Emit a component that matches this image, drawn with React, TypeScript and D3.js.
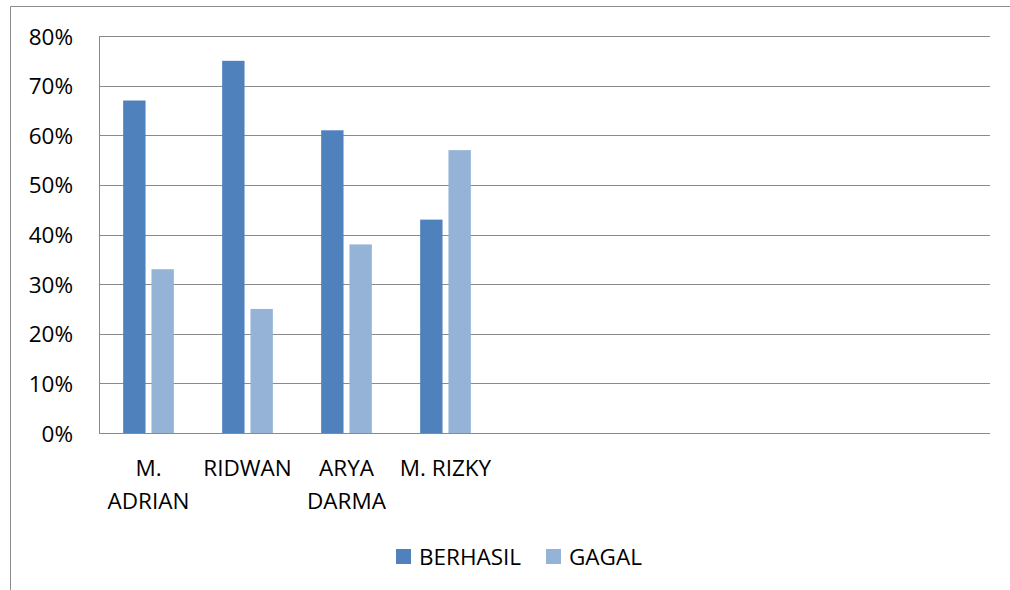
import React from "react";
import * as d3 from "d3";

const categories = ["M. ADRIAN", "RIDWAN", "ARYA DARMA", "M. RIZKY", "", "", "", "", ""];
const seriesNames = ["BERHASIL", "GAGAL"];
const berhasil = [0.67, 0.75, 0.61, 0.43, null, null, null, null, null];
const gagal = [0.33, 0.25, 0.38, 0.57, null, null, null, null, null];
const yTicks = [0, 0.1, 0.2, 0.3, 0.4, 0.5, 0.6, 0.7, 0.8];
const colors = ["#4F81BD", "#95B3D7"];

const W = 1010, H = 590;
const plot = { left: 99, right: 990, top: 36, bottom: 433 };
const FONT = "'Open Sans', sans-serif";
const FS = 22.5;

function wrap(label: string): string[] {
  if (label.length > 8 && label.includes(" ")) {
    const i = label.indexOf(" ");
    return [label.slice(0, i), label.slice(i + 1)];
  }
  return [label];
}

export default function App() {
  const x = d3.scaleBand<number>().domain(categories.map((_, i) => i)).range([plot.left, plot.right]);
  const y = d3.scaleLinear().domain([0, 0.8]).range([plot.bottom, plot.top]);
  const barW = x.bandwidth() * 0.226;
  const gap = x.bandwidth() * 0.06;
  const series = [berhasil, gagal];
  const fmt = d3.format(".0%");
  return (
    <svg width={W} height={H} style={{ position: "absolute", left: 0, top: 0, background: "#fff" }} fontFamily={FONT}>
      <rect x={0} y={0} width={W} height={H} fill="#fff" />
      <line x1={10.5} y1={6.5} x2={W} y2={6.5} stroke="#8c8c8c" />
      <line x1={10.5} y1={6.5} x2={10.5} y2={H} stroke="#8c8c8c" />
      {yTicks.map((t) => (
        <g key={t}>
          <line x1={plot.left} x2={plot.right} y1={Math.round(y(t)) + 0.5} y2={Math.round(y(t)) + 0.5} stroke="#8a8a8a" />
          <text x={73} y={y(t)} textAnchor="end" dominantBaseline="central" fontSize={FS} fill="#000">
            {fmt(t)}
          </text>
        </g>
      ))}
      <line x1={plot.left + 0.5} x2={plot.left + 0.5} y1={plot.top} y2={plot.bottom} stroke="#8a8a8a" />
      {series.map((vals, si) =>
        vals.map((v, i) =>
          v == null ? null : (
            <rect
              key={si + "-" + i}
              x={(x(i) as number) + x.bandwidth() / 2 - barW - gap / 2 + si * (barW + gap)}
              y={y(v)}
              width={barW}
              height={plot.bottom - y(v)}
              fill={colors[si]}
            />
          )
        )
      )}
      {categories.map((c, i) =>
        wrap(c).map((line, li) => (
          <text
            key={i + "-" + li}
            x={(x(i) as number) + x.bandwidth() / 2}
            y={467 + li * 33}
            textAnchor="middle"
            dominantBaseline="central"
            fontSize={FS}
            fill="#000"
          >
            {line}
          </text>
        ))
      )}
      {seriesNames.map((s, i) => {
        const lx = [396, 546][i];
        return (
          <g key={s}>
            <rect x={lx} y={549} width={15} height={15} fill={colors[i]} />
            <text x={lx + 23} y={556} dominantBaseline="central" fontSize={FS} fill="#000">
              {s}
            </text>
          </g>
        );
      })}
    </svg>
  );
}
